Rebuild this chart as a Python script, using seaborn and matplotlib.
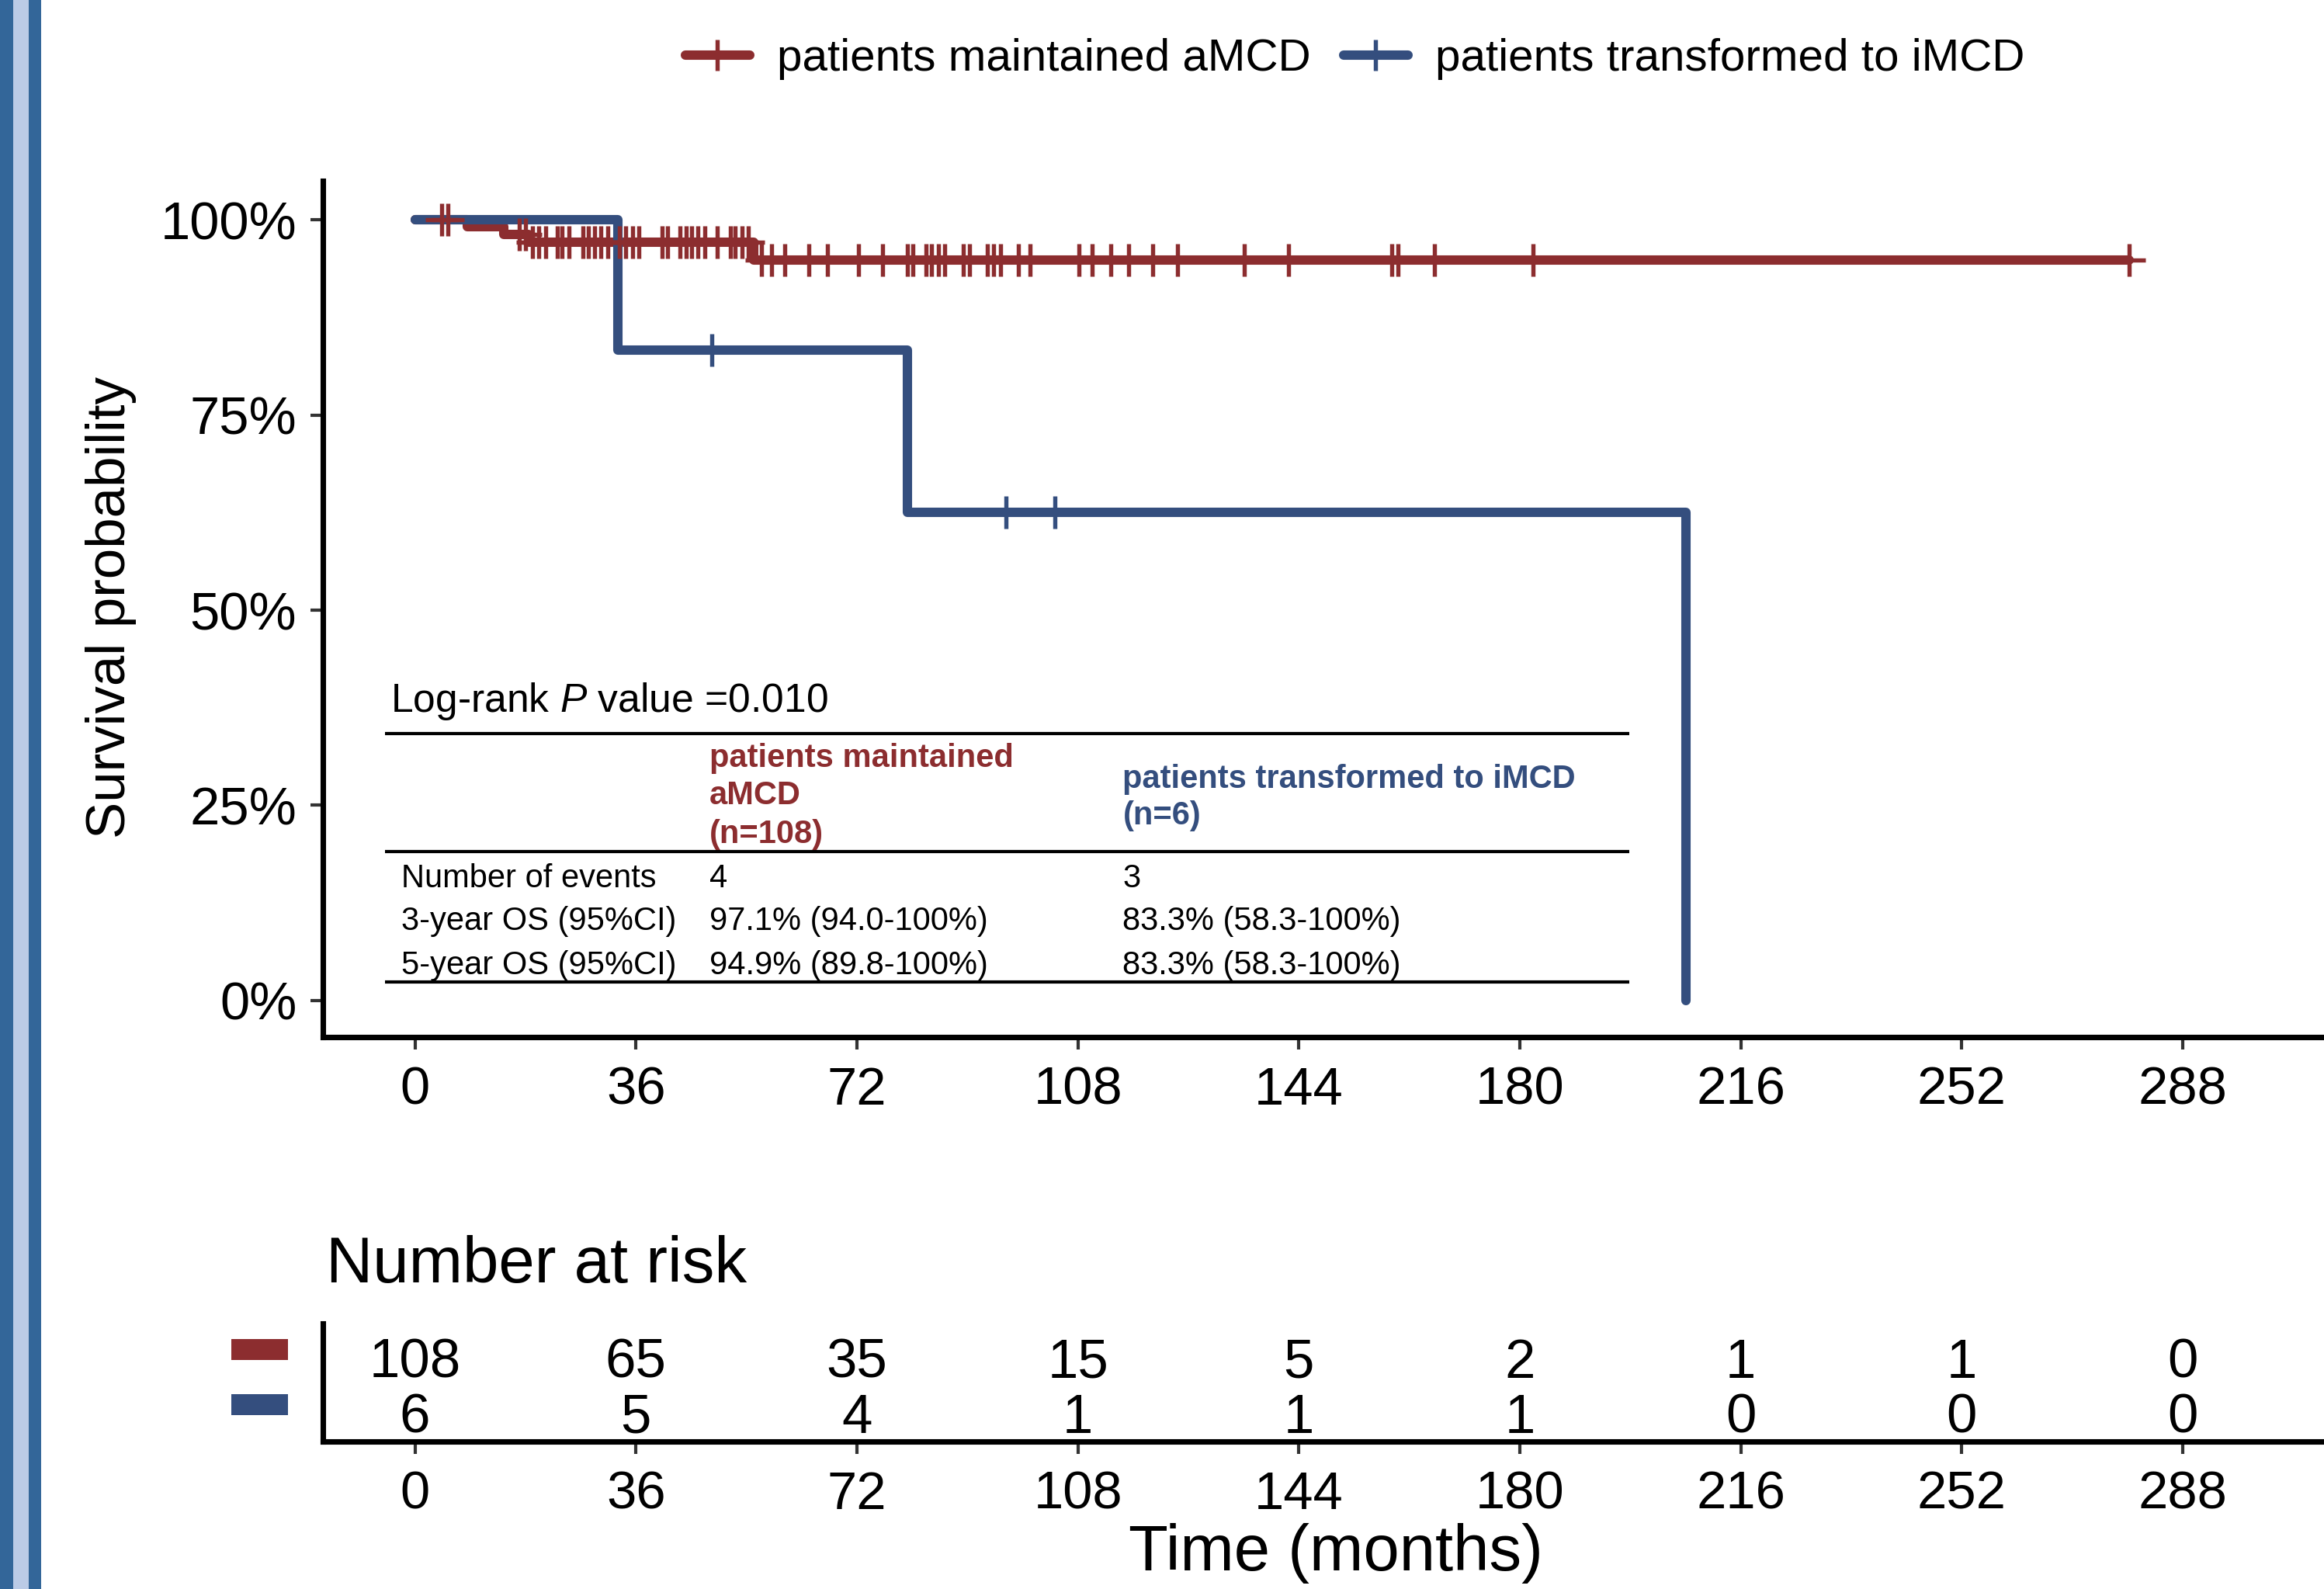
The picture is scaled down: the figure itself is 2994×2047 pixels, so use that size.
import numpy as np
import pandas as pd
import seaborn as sns
import matplotlib
matplotlib.use("Agg")
import matplotlib.pyplot as plt
from matplotlib.lines import Line2D
from matplotlib.patches import Rectangle

# ---------------- data ----------------
group_labels = ["patients maintained aMCD", "patients transformed to iMCD"]

red_step_time = [0, 8.5, 14.5, 18.5, 55.2, 279.2]
red_step_surv = [1.0, 0.991, 0.981, 0.971, 0.949, 0.949]
red_censor_time = [4.4, 5.3, 17.0, 18.0, 19.2, 20.2, 21.3, 23.2, 24.0, 25.1, 27.4, 28.2,
                   29.3, 30.3, 31.4, 33.3, 34.3, 35.4, 36.5, 40.2, 41.1, 43.2, 44.2, 45.1,
                   46.1, 47.2, 49.3, 51.4, 52.2, 53.3, 54.3, 56.4, 58.1, 60.2, 64.2, 67.2,
                   72.2, 76.2, 80.2, 81.1, 83.2, 84.2, 85.3, 86.3, 89.3, 90.3, 93.3, 94.3,
                   95.4, 98.3, 100.2, 108.2, 110.3, 113.3, 116.2, 120.2, 124.2, 135.1,
                   142.3, 159.1, 160.2, 166.1, 182.1, 279.2]

blue_step_time = [0, 33.0, 80.2, 207.0]
blue_step_surv = [1.0, 0.833, 0.625, 0.0]
blue_censor_time = [48.3, 96.3, 104.2]

time_ticks = [0, 36, 72, 108, 144, 180, 216, 252, 288]
surv_ticks = [0, 0.25, 0.5, 0.75, 1.0]
surv_tick_labels = ["0%", "25%", "50%", "75%", "100%"]
risk_red = [108, 65, 35, 15, 5, 2, 1, 1, 0]
risk_blue = [6, 5, 4, 1, 1, 1, 0, 0, 0]

pvalue = "0.010"
table_headers = [["patients maintained", "aMCD", "(n=108)"],
                 ["patients transformed to iMCD", "(n=6)"]]
table_row_labels = ["Number of events", "3-year OS (95%CI)", "5-year OS (95%CI)"]
table_red = ["4", "97.1% (94.0-100%)", "94.9% (89.8-100%)"]
table_blue = ["3", "83.3% (58.3-100%)", "83.3% (58.3-100%)"]

# ---------------- style ----------------
RED = "#8C2D2F"
BLUE = "#344E7E"
STRIPE_DARK = "#336699"
STRIPE_LIGHT = "#BBCBE6"

sns.set_style("ticks")
plt.rcParams["font.family"] = ["Liberation Sans", "DejaVu Sans"]
plt.rcParams["mathtext.fontset"] = "custom"
plt.rcParams["mathtext.rm"] = "Liberation Sans"
plt.rcParams["mathtext.it"] = "Liberation Sans:italic"
plt.rcParams["text.color"] = "black"
plt.rcParams["axes.labelcolor"] = "black"
plt.rcParams["xtick.color"] = "#333333"
plt.rcParams["ytick.color"] = "#333333"
plt.rcParams["xtick.labelcolor"] = "black"
plt.rcParams["ytick.labelcolor"] = "black"

W, H = 2994, 2047
DPI = 300
fig = plt.figure(figsize=(W / DPI, H / DPI), dpi=DPI)

def fx(px):
    return px / W

def fy(py):
    return 1 - py / H

# main axes
ax = fig.add_axes([fx(416), fy(1336), fx(2994) - fx(416), fy(233) - fy(1336)])
# risk table axes
axr = fig.add_axes([fx(416), fy(1857), fx(2994) - fx(416), fy(1705) - fy(1857)])

LW = 2.9
sns.lineplot(x=red_step_time, y=red_step_surv, drawstyle="steps-post", estimator=None,
             sort=False, color=RED, linewidth=LW, ax=ax, solid_joinstyle="round", zorder=2)
sns.lineplot(x=blue_step_time, y=blue_step_surv, drawstyle="steps-post", estimator=None,
             sort=False, color=BLUE, linewidth=LW, ax=ax, solid_joinstyle="round", zorder=3)

def surv_at(times, step_t, step_s):
    step_t = np.asarray(step_t)
    step_s = np.asarray(step_s)
    idx = np.searchsorted(step_t, np.asarray(times), side="right") - 1
    return step_s[idx]

red_censor_surv = surv_at(red_censor_time, red_step_time, red_step_surv)
blue_censor_surv = surv_at(blue_censor_time, blue_step_time, blue_step_surv)

MS = 100
MEW = 1.3
sns.scatterplot(x=red_censor_time, y=red_censor_surv, marker="+", s=MS, color=RED,
                linewidth=MEW, ax=ax, zorder=4)
sns.scatterplot(x=blue_censor_time, y=blue_censor_surv, marker="+", s=MS, color=BLUE,
                linewidth=MEW, ax=ax, zorder=5)

XLIM = (-15, 311)
ax.set_xlim(*XLIM)
ax.set_ylim(-0.047, 1.05)
ax.set_xticks(time_ticks)
ax.set_xticklabels([str(t) for t in time_ticks])
ax.set_yticks(surv_ticks)
ax.set_yticklabels(surv_tick_labels)
ax.set_xlabel("")
ax.set_ylabel("")
for s in ["top", "right"]:
    ax.spines[s].set_visible(False)
for s in ["left", "bottom"]:
    ax.spines[s].set_linewidth(1.7)
    ax.spines[s].set_color("black")
ax.tick_params(axis="both", length=3.8, width=1.0, color="#333333", labelsize=16.5,
               labelcolor="black")
ax.tick_params(axis="y", pad=4.3)
ax.tick_params(axis="x", pad=5)

fig.text(fx(143), fy(783), "Survival probability", rotation=90, ha="center", va="center",
         fontsize=17, color="black")

# in-plot table
TXT = 10
ax.text(-4.0, 0.3698, r"Log-rank $\mathit{P}$ value =" + pvalue, fontsize=12.4,
        ha="left", va="baseline", color="black")
for yy in [0.3419, 0.1909, 0.0239]:
    ax.plot([-4.87, 197.8], [yy, yy], color="black", lw=1.0, solid_capstyle="butt",
            zorder=1)
for line, yy in zip(table_headers[0], [0.2992, 0.2515, 0.2018]):
    ax.text(48.0, yy, line, color=RED, fontweight="bold", fontsize=TXT, ha="left",
            va="baseline")
for line, yy in zip(table_headers[1], [0.2724, 0.2256]):
    ax.text(115.3, yy, line, color=BLUE, fontweight="bold", fontsize=TXT, ha="left",
            va="baseline")
for lab, rv, bv, yy in zip(table_row_labels, table_red, table_blue, [0.1451, 0.0905, 0.0338]):
    ax.text(-2.2, yy, lab, fontsize=TXT, ha="left", va="baseline", color="black")
    ax.text(48.0, yy, rv, fontsize=TXT, ha="left", va="baseline", color="black")
    ax.text(115.3, yy, bv, fontsize=TXT, ha="left", va="baseline", color="black")

# legend
handles = [Line2D([], [], color=RED, lw=LW, marker="+", markersize=9.8, markeredgewidth=MEW),
           Line2D([], [], color=BLUE, lw=LW, marker="+", markersize=9.8, markeredgewidth=MEW)]
leg = fig.legend(handles, group_labels, loc="center", bbox_to_anchor=(0.583, fy(76)), ncol=2,
                 frameon=False, fontsize=14, handlelength=1.43, handletextpad=0.6,
                 columnspacing=0.72, borderpad=0, numpoints=1)
for t in leg.get_texts():
    t.set_color("black")

# risk table
axr.set_xlim(*XLIM)
axr.set_ylim(-0.52, 1.62)
for t, r, b in zip(time_ticks, risk_red, risk_blue):
    axr.text(t, 1, str(r), ha="center", va="center_baseline", fontsize=17, color="black")
    axr.text(t, 0, str(b), ha="center", va="center_baseline", fontsize=17, color="black")
axr.set_xticks(time_ticks)
axr.set_xticklabels([str(t) for t in time_ticks])
axr.set_yticks([])
for s in ["top", "right"]:
    axr.spines[s].set_visible(False)
for s in ["left", "bottom"]:
    axr.spines[s].set_linewidth(1.7)
    axr.spines[s].set_color("black")
axr.tick_params(axis="x", length=3.8, width=1.0, color="#333333", labelsize=16.5,
                labelcolor="black", pad=5)

fig.add_artist(Rectangle((fx(298), fy(1752)), fx(73), fy(1725) - fy(1752),
                         transform=fig.transFigure, color=RED, lw=0))
fig.add_artist(Rectangle((fx(298), fy(1823)), fx(73), fy(1796) - fy(1823),
                         transform=fig.transFigure, color=BLUE, lw=0))

fig.text(fx(420), fy(1652), "Number at risk", fontsize=20, ha="left", va="baseline",
         color="black")
fig.text(fx(1721), fy(2023), "Time (months)", fontsize=20, ha="center", va="baseline",
         color="black")

# left decorative stripes
for x0, x1, c in [(0, 16.5, STRIPE_DARK), (16.5, 36.5, STRIPE_LIGHT), (36.5, 52.5, STRIPE_DARK)]:
    fig.add_artist(Rectangle((fx(x0), 0), fx(x1 - x0), 1, transform=fig.transFigure,
                             color=c, lw=0))

fig.savefig("out.png", dpi=DPI)
